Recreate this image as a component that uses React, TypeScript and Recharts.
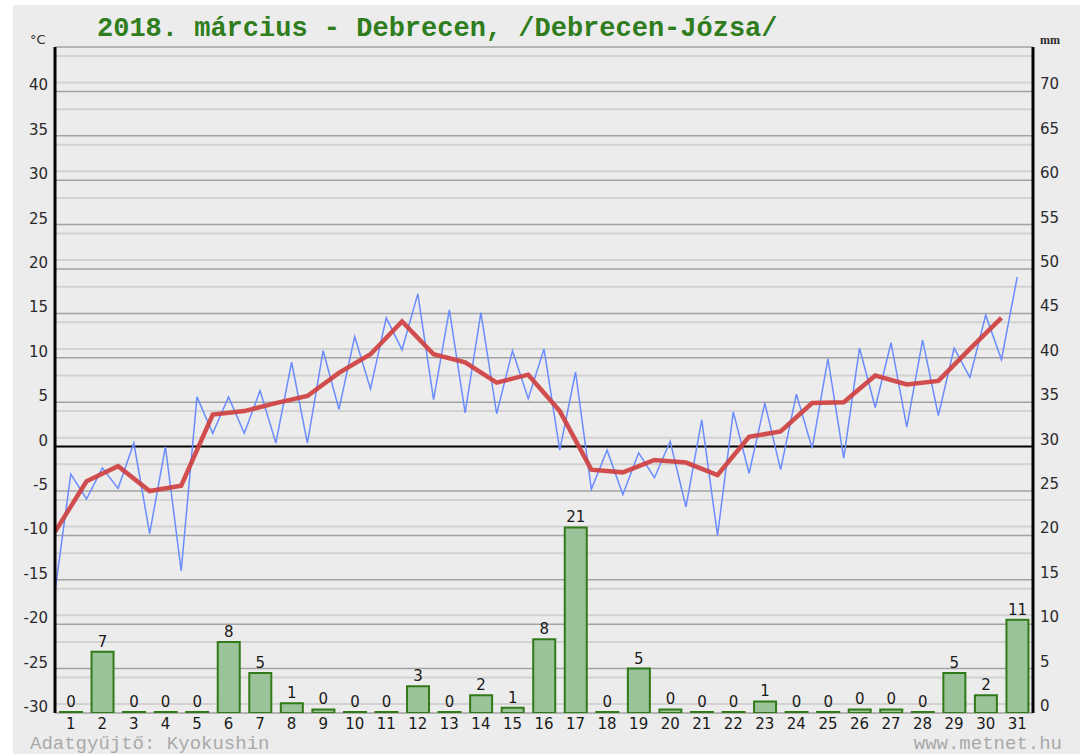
import React from 'react';
import { ComposedChart, Bar, Line, XAxis, YAxis, CartesianGrid, ReferenceLine, LabelList } from 'recharts';

const titleText = '2018. március - Debrecen, /Debrecen-Józsa/';
const collectorText = 'Adatgyűjtő: Kyokushin';
const siteText = 'www.metnet.hu';

const dayLabels = ['1', '2', '3', '4', '5', '6', '7', '8', '9', '10', '11', '12', '13', '14', '15', '16',
  '17', '18', '19', '20', '21', '22', '23', '24', '25', '26', '27', '28', '29', '30', '31'];

// daily precipitation (mm)
const precipitation = [0, 6.9, 0, 0, 0, 8.0, 4.5, 1.1, 0.4, 0, 0, 3.0, 0, 2.0, 0.6, 8.3,
  20.9, 0, 5.0, 0.4, 0, 0, 1.3, 0, 0, 0.4, 0.4, 0, 4.5, 2.0, 10.5];

// daily mean temperature (°C)
const dailyMean = [-9.6, -3.9, -2.2, -5.0, -4.4, 3.6, 4.0, 4.9, 5.7, 8.3, 10.4, 14.1, 10.4, 9.5, 7.2, 8.1,
  4.0, -2.6, -2.9, -1.5, -1.8, -3.2, 1.1, 1.7, 4.9, 5.0, 8.0, 7.0, 7.4, 11.0, 14.5];

// half-daily temperature readings (°C), alternating min / max
const halfDayTemps = [
  -16.3, -3.1, -5.9, -2.4, -4.7, 0.4, -9.8, 0.0, -14.0, 5.6,
  1.5, 5.6, 1.5, 6.3, 0.4, 9.5, 0.4, 10.8, 4.2, 12.4,
  6.5, 14.5, 10.9, 17.2, 5.3, 15.4, 3.8, 15.1, 3.7, 10.8,
  5.4, 11.0, -0.4, 8.4, -4.8, -0.4, -5.4, -0.7, -3.5, 0.6,
  -6.8, 3.0, -10.0, 3.9, -3.0, 4.9, -2.6, 5.9, -0.2, 9.9,
  -1.3, 11.1, 4.4, 11.7, 2.2, 12.0, 3.5, 11.1, 7.8, 14.8,
  9.8, 19.1,
];

const tempTicks = [-30, -25, -20, -15, -10, -5, 0, 5, 10, 15, 20, 25, 30, 35, 40];
const mmTicks = [0, 5, 10, 15, 20, 25, 30, 35, 40, 45, 50, 55, 60, 65, 70];
const majorLines = [-30, -25, -20, -15, -10, -5, 5, 10, 15, 20, 25, 30, 35, 40, 45];
const minorLines: number[] = [];
for (let v = -29; v < 45; v++) if (v % 5 !== 0) minorLines.push(v);

const barRows = dayLabels.map((d, i) => ({ day: d, precip: precipitation[i] }));
const meanRows = dailyMean.map((v, i) => ({ t: i, temp: v }));
const halfRows = halfDayTemps.map((v, i) => ({ t: i / 2, temp: v }));

const tickFont = 'DejaVu Sans, sans-serif';

const LeftTick = (p: any) => (
  <text x={p.x} y={p.y} dy={-1} textAnchor="end" fontSize={15} fill="#2a2a2a" fontFamily={tickFont}>
    {p.payload.value}
  </text>
);
const RightTick = (p: any) => (
  <text x={p.x} y={p.y} dy={-2} textAnchor="start" fontSize={15} fill="#2a2a2a" fontFamily={tickFont}>
    {p.payload.value}
  </text>
);
const DayTick = (p: any) => (
  <text x={p.x} y={p.y} dy={14} textAnchor="middle" fontSize={15} fill="#1a1a1a" fontFamily={tickFont}>
    {p.payload.value}
  </text>
);

export default function App() {
  return (
    <div style={{ position: 'absolute', left: 0, top: 0, width: 1080, height: 754, background: '#ffffff', overflow: 'hidden' }}>
      <div style={{ position: 'absolute', left: 13, top: 5, width: 1067, height: 749, background: '#ececec' }} />
      <div style={{ position: 'absolute', left: 0, top: 0 }}>
        <ComposedChart width={1080} height={754} data={barRows} margin={{ top: 47, right: 7, bottom: 11, left: 15 }}>
          <CartesianGrid xAxisId="day" yAxisId="c" horizontalValues={minorLines} vertical={false} stroke="#d2d2d2" strokeWidth={2} />
          <CartesianGrid xAxisId="day" yAxisId="c" horizontalValues={majorLines} vertical={false} stroke="#a2a2a2" strokeWidth={1.5} />
          <XAxis xAxisId="day" dataKey="day" type="category" interval={0} tickLine={false} axisLine={false}
            tickSize={0} tickMargin={2} height={30} tick={DayTick} />
          <XAxis xAxisId="t" dataKey="t" type="number" domain={[0, 31]} allowDataOverflow hide />
          <YAxis yAxisId="c" domain={[-30, 45]} ticks={tempTicks} allowDataOverflow width={40}
            axisLine={{ stroke: '#000', strokeWidth: 3 }} tickLine={false} tickSize={0} tickMargin={7} tick={LeftTick} />
          <YAxis yAxisId="mm" orientation="right" domain={[0, 75]} ticks={mmTicks} allowDataOverflow width={40}
            axisLine={{ stroke: '#000', strokeWidth: 3 }} tickLine={false} tickSize={0} tickMargin={7} tick={RightTick} />
          <ReferenceLine xAxisId="day" yAxisId="c" y={0} stroke="#000" strokeWidth={2} />
          <Bar xAxisId="day" yAxisId="mm" dataKey="precip" barSize={22} fill="#9bc39a" stroke="#317a18" strokeWidth={2}
            minPointSize={1} isAnimationActive={false}>
            <LabelList dataKey="precip" position="top" offset={5}
              formatter={(v: any) => Math.round(Number(v))}
              style={{ fontSize: 15, fill: '#1a1a1a', fontFamily: tickFont }} />
          </Bar>
          <Line xAxisId="t" yAxisId="c" data={halfRows} dataKey="temp" type="linear" stroke="#6b8cff" strokeWidth={1.5}
            dot={false} activeDot={false} isAnimationActive={false} />
          <Line xAxisId="t" yAxisId="c" data={meanRows} dataKey="temp" type="linear" stroke="#cf3d3d" strokeWidth={4.5}
            strokeOpacity={0.9} dot={false} activeDot={false} isAnimationActive={false} />
          <text x={97} y={36} fontFamily="Liberation Mono, monospace" fontWeight="bold" fontSize={27} fill="#2f7d1c">{titleText}</text>
          <text x={30} y={44} fontFamily={tickFont} fontSize={13} fill="#2a2a2a">°C</text>
          <text x={1040} y={44} fontFamily="Liberation Serif, serif" fontWeight="bold" fontSize={12} fill="#2a2a2a">mm</text>
          <text x={30} y={749} fontFamily="Liberation Mono, monospace" fontSize={19} fill="#a9a9a9">{collectorText}</text>
          <text x={1062} y={749} textAnchor="end" fontFamily="Liberation Mono, monospace" fontSize={19} fill="#a9a9a9">{siteText}</text>
        </ComposedChart>
      </div>
    </div>
  );
}
